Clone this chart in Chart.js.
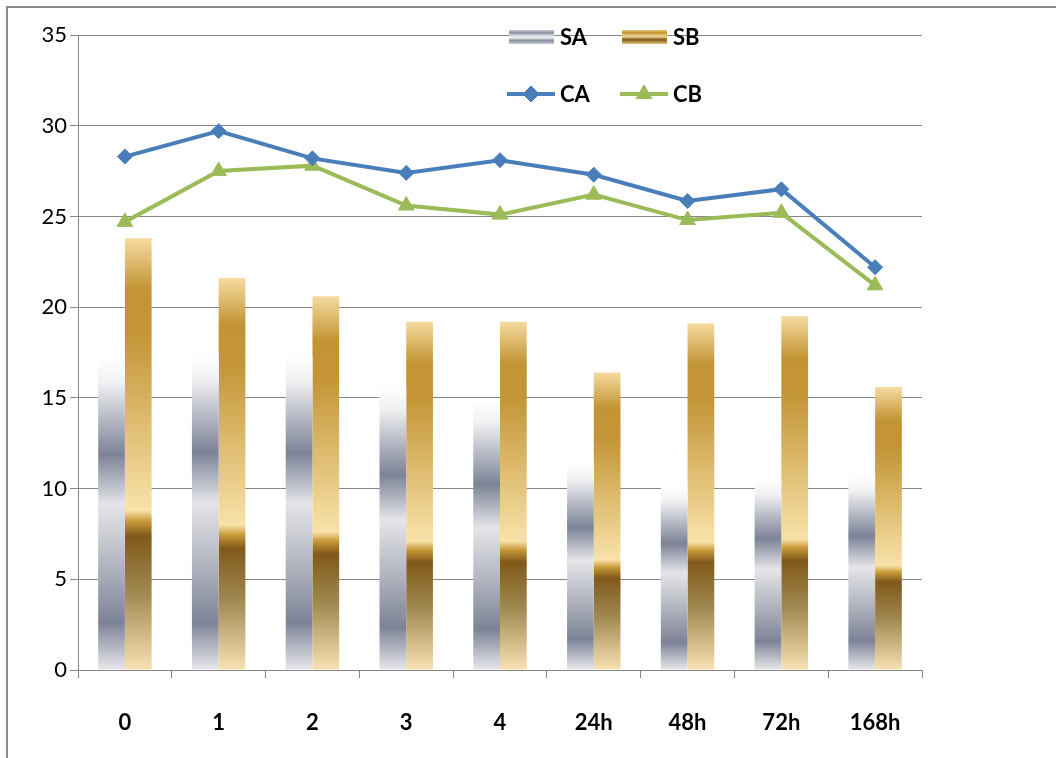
<!DOCTYPE html>
<html>
<head>
<meta charset="utf-8">
<script src="https://cdn.jsdelivr.net/npm/chart.js@4/dist/chart.umd.min.js"></script>
<style>
  html, body { margin: 0; padding: 0; background: #fff; }
  #wrap { position: relative; width: 1056px; height: 758px; overflow: hidden; }
  #frame { position: absolute; left: 6px; top: 6px; width: 1100px; height: 800px;
           border-left: 2px solid #8c8c8c; border-top: 2px solid #8c8c8c; pointer-events: none; }
  canvas { position: absolute; left: 0; top: 0; }
</style>
</head>
<body>
<div id="wrap">
  <canvas id="c" width="1056" height="758"></canvas>
  <div id="frame"></div>
</div>
<script>
const categories = ['0', '1', '2', '3', '4', '24h', '48h', '72h', '168h'];
const SA = [17.2, 17.4, 17.3, 15.6, 14.8, 11.4, 10.1, 10.5, 10.7];
const SB = [23.8, 21.6, 20.6, 19.2, 19.2, 16.4, 19.1, 19.5, 15.6];
const CA = [28.3, 29.7, 28.2, 27.4, 28.1, 27.3, 25.85, 26.5, 22.2];
const CB = [24.7, 27.5, 27.8, 25.6, 25.1, 26.2, 24.8, 25.2, 21.2];
const yTicks = [0, 5, 10, 15, 20, 25, 30, 35];

const FONT = 'Lato, "Open Sans", "DejaVu Sans", sans-serif';
const SA_STOPS = [[0, '#ffffff'], [0.08, '#eff0f2'], [0.31, '#7d8397'], [0.47, '#e4e5e8'], [0.66, '#b3b6c0'], [0.85, '#7d8397'], [1, '#e8e8ec']];
const SB_STOPS = [[0, '#f6dba0'], [0.12, '#c29433'], [0.22, '#c39536'], [0.63, '#f9e2a9'], [0.655, '#c89a38'], [0.69, '#80591a'], [0.82, '#a08850'], [1, '#f8e2b2']];

function makeGrad(ctx2d, y0, y1, stops) {
  const g = ctx2d.createLinearGradient(0, y0, 0, y1);
  stops.forEach(s => g.addColorStop(s[0], s[1]));
  return g;
}
function barGrad(stops, fallback) {
  return function(context) {
    const chart = context.chart;
    if (!chart.chartArea || context.type !== 'data' || !chart.scales.y) return fallback;
    const yTop = chart.scales.y.getPixelForValue(context.raw);
    const yBot = chart.scales.y.getPixelForValue(0);
    return makeGrad(chart.ctx, yTop, yBot, stops);
  };
}

const legendPlugin = {
  id: 'customLegend',
  afterDraw(chart) {
    const c = chart.ctx;
    c.save();
    c.font = 'bold 22px ' + FONT;
    c.fillStyle = '#000';
    c.textBaseline = 'middle';
    c.textAlign = 'left';
    // bars
    const items = [
      {x: 509, label: 'SA', stops: [[0,'#c9ccd4'],[0.2,'#8a90a2'],[0.4,'#d8dae0'],[0.55,'#eeeff2'],[0.75,'#8a90a2'],[1,'#c9ccd4']]},
      {x: 622, label: 'SB', stops: [[0,'#e8c780'],[0.2,'#c29433'],[0.45,'#f3d89a'],[0.7,'#80591a'],[1,'#e8c780']]}
    ];
    const y1 = 37;
    items.forEach(it => {
      c.fillStyle = makeGrad(c, y1 - 7, y1 + 7, it.stops);
      c.fillRect(it.x, y1 - 7, 45, 14);
      c.fillStyle = '#000';
      c.fillText(it.label, it.x + 51, y1 + 1);
    });
    const y2 = 94;
    const lines = [
      {x: 507, label: 'CA', color: '#4a7ebb', style: 'rectRot', r: 8},
      {x: 620, label: 'CB', color: '#9bbb59', style: 'triangle', r: 9}
    ];
    lines.forEach(it => {
      c.strokeStyle = it.color;
      c.lineWidth = 4;
      c.beginPath();
      c.moveTo(it.x, y2);
      c.lineTo(it.x + 48, y2);
      c.stroke();
      c.fillStyle = it.color;
      c.lineWidth = 1;
      Chart.helpers.drawPoint(c, {pointStyle: it.style, radius: it.r, borderWidth: 1, rotation: 0}, it.x + 24, y2);
      c.fill();
      c.fillStyle = '#000';
      c.fillText(it.label, it.x + 53, y2 + 1);
    });
    c.restore();
  }
};

new Chart(document.getElementById('c'), {
  type: 'bar',
  data: {
    labels: categories,
    datasets: [
      { type: 'line', label: 'CA', data: CA, borderColor: '#4a7ebb', backgroundColor: '#4a7ebb',
        borderWidth: 4, pointStyle: 'rectRot', pointRadius: 7.5, pointBorderWidth: 1, order: 0, tension: 0 },
      { type: 'line', label: 'CB', data: CB, borderColor: '#9bbb59', backgroundColor: '#9bbb59',
        borderWidth: 4, pointStyle: 'triangle', pointRadius: 9, pointBorderWidth: 1, order: 0, tension: 0 },
      { label: 'SA', data: SA, backgroundColor: barGrad(SA_STOPS, '#9aa0b0'), borderWidth: 0, order: 1 },
      { label: 'SB', data: SB, backgroundColor: barGrad(SB_STOPS, '#d0a850'), borderWidth: 0, order: 1 }
    ]
  },
  options: {
    responsive: false,
    animation: false,
    devicePixelRatio: 1,
    layout: { padding: { left: 0, top: 35, right: 134, bottom: 0 } },
    datasets: { bar: { categoryPercentage: 0.57, barPercentage: 1 } },
    plugins: { legend: { display: false }, tooltip: { enabled: false } },
    scales: {
      x: {
        offset: true,
        grid: { display: true, drawOnChartArea: false, drawTicks: true, tickLength: 8, color: '#868686', offset: true },
        border: { display: true, color: '#868686', width: 1 },
        ticks: { color: '#000', font: { family: FONT, size: 22, weight: 'bold' }, padding: 32, maxRotation: 0 },
        afterFit(scale) { scale.height = 88; }
      },
      y: {
        min: 0, max: 35,
        afterBuildTicks(scale) { scale.ticks = yTicks.map(v => ({ value: v })); },
        grid: { color: '#868686', drawTicks: true, tickLength: 8 },
        border: { display: true, color: '#868686', width: 1 },
        ticks: { color: '#000', font: { family: FONT, size: 22 }, padding: 3 },
        afterFit(scale) { scale.width = 78; }
      }
    }
  },
  plugins: [legendPlugin]
});
</script>
</body>
</html>
